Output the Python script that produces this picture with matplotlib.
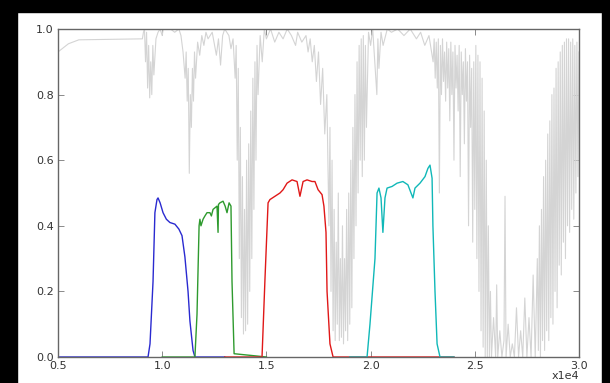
import matplotlib
matplotlib.use("Agg")
from matplotlib import pyplot as plt
from matplotlib.patches import Rectangle

atm_wave_a = [5000, 5200, 5500, 6000, 9050,
              9100, 9150, 9200, 9250, 9300, 9350, 9400, 9450, 9500, 9550, 9600, 9700, 9800, 9900, 10000, 10050, 10400,
              10600, 10800, 10900, 11000, 11100, 11150, 11200, 11250, 11300, 11350, 11400, 11450, 11500, 11550, 11600,
              11700, 11800, 11900, 12000, 12100, 12200, 12400, 12600, 12700, 12800, 12900, 13000, 13200, 13300, 13400,
              13500]
atm_trans_a = [0.93, 0.94, 0.955, 0.967, 0.97,
               0.99, 1.0, 0.9, 0.99, 0.82, 0.95, 0.79, 0.9, 0.8, 0.95, 0.86, 0.97, 0.99, 1.0, 0.98, 1.0, 1.0,
               0.99, 1.0, 0.98, 0.93, 0.85, 0.93, 0.78, 0.88, 0.56, 0.8, 0.7, 0.88, 0.78, 0.93, 0.85,
               0.96, 0.92, 0.98, 0.95, 0.99, 0.97, 0.99, 0.92, 0.97, 0.89, 0.98, 1.0, 0.98, 0.94, 0.97,
               0.85]

atm_wave_b = [13550, 13600, 13650, 13700, 13750, 13800, 13850, 13900, 13950, 14000, 14050, 14100, 14150, 14200, 14250,
              14300, 14350, 14400, 14450, 14500, 14550, 14600, 14700, 14800, 14900,
              15000, 15200, 15400, 15600, 15800, 16000, 16200, 16400, 16500, 16700, 16900, 17000, 17100, 17200, 17300,
              17400, 17500, 17600, 17700, 17800, 17900]
atm_trans_b = [0.95, 0.6, 0.88, 0.3, 0.7, 0.12, 0.55, 0.07, 0.45, 0.08, 0.6, 0.1, 0.65, 0.2, 0.75,
               0.3, 0.85, 0.45, 0.9, 0.6, 0.95, 0.8, 0.98, 0.9, 1.0,
               0.97, 1.0, 0.96, 0.99, 0.97, 1.0, 0.98, 0.95, 0.99, 0.96, 0.98, 0.93, 0.97, 0.9, 0.95,
               0.84, 0.93, 0.77, 0.88, 0.68, 0.8]

atm_wave_c = [18000, 18050, 18100, 18150, 18200, 18250, 18300, 18350, 18400, 18450, 18500, 18550, 18600, 18650, 18700,
              18750, 18800, 18850, 18900, 18950, 19000, 19050, 19100, 19150, 19200, 19250, 19300, 19350, 19400, 19450,
              19500, 19550, 19600, 19650, 19700, 19750, 19800, 19900, 20000, 20100, 20200, 20300, 20350, 20400, 20500,
              20600, 20800, 21000, 21300, 21600, 21900, 22200, 22400, 22600, 22800]
atm_trans_c = [0.4, 0.7, 0.2, 0.6, 0.08, 0.45, 0.05, 0.35, 0.1, 0.5, 0.05, 0.3, 0.06, 0.4, 0.04,
               0.3, 0.08, 0.45, 0.05, 0.5, 0.1, 0.6, 0.15, 0.7, 0.3, 0.8, 0.4, 0.9, 0.5, 0.95,
               0.6, 0.97, 0.55, 0.98, 0.6, 0.95, 0.7, 0.99, 0.95, 1.0, 0.9, 0.8, 0.97, 0.88, 0.99,
               0.95, 1.0, 0.99, 1.0, 0.98, 1.0, 0.97, 0.99, 0.95, 0.98]

atm_wave_d = [23000, 23050, 23100, 23150, 23200, 23250, 23300, 23350, 23400, 23450, 23500, 23550, 23600, 23650, 23700,
              23750, 23800, 23850, 23900, 23950, 24000, 24050, 24100, 24150, 24200, 24250, 24300, 24350, 24400, 24450,
              24500, 24550, 24600, 24650, 24700, 24750, 24800, 24850, 24900, 24950, 25000, 25050, 25100, 25150, 25200,
              25250, 25300, 25350, 25400, 25450, 25500, 25550, 25600, 25650, 25700, 25750, 25800]
atm_trans_d = [0.9, 0.97, 0.85, 0.96, 0.82, 0.97, 0.5, 0.95, 0.8, 0.97, 0.84, 0.93, 0.78, 0.96, 0.82,
               0.94, 0.72, 0.96, 0.8, 0.93, 0.6, 0.95, 0.82, 0.92, 0.75, 0.95, 0.55, 0.93, 0.8, 0.9,
               0.65, 0.94, 0.78, 0.9, 0.4, 0.92, 0.7, 0.88, 0.35, 0.9, 0.45, 0.95, 0.3, 0.92, 0.2,
               0.9, 0.08, 0.85, 0.03, 0.75, 0.0, 0.6, 0.0, 0.4, 0.0, 0.2, 0.0]

atm_wave_e = [25900, 26000, 26050, 26100, 26200, 26300, 26400, 26450, 26500, 26600, 26700, 26800, 26900, 27000, 27100,
              27200, 27300, 27400, 27500, 27600, 27700, 27800, 27900, 28000,
              28050, 28100, 28150, 28200, 28250, 28300, 28350, 28400, 28450, 28500, 28550, 28600, 28650, 28700, 28750,
              28800, 28850, 28900, 28950, 29000, 29050, 29100, 29150, 29200, 29250, 29300, 29350, 29400, 29450, 29500,
              29550, 29600, 29650, 29700, 29750, 29800, 29850, 29900, 29950, 30000]
atm_trans_e = [0.12, 0.0, 0.22, 0.0, 0.08, 0.0, 0.05, 0.49, 0.0, 0.1, 0.0, 0.04, 0.0, 0.15, 0.0,
               0.08, 0.0, 0.18, 0.0, 0.12, 0.0, 0.25, 0.0, 0.3,
               0.02, 0.4, 0.0, 0.45, 0.05, 0.55, 0.02, 0.6, 0.08, 0.68, 0.05, 0.72, 0.12, 0.8, 0.1,
               0.82, 0.2, 0.88, 0.15, 0.9, 0.28, 0.93, 0.25, 0.95, 0.35, 0.96, 0.3, 0.97, 0.4, 0.97,
               0.38, 0.96, 0.45, 0.97, 0.42, 0.95, 0.5, 0.96, 0.55, 0.93]

atm_wave = atm_wave_a + atm_wave_b + atm_wave_c + atm_wave_d + atm_wave_e
atm_trans = atm_trans_a + atm_trans_b + atm_trans_c + atm_trans_d + atm_trans_e

# filter curves
y_wave = [5000, 9320, 9415, 9560, 9650, 9750, 9800, 9900, 10040, 10200, 10370, 10610, 10800, 10950, 11090, 11240, 11330,
          11480, 11570, 13000]
y_trans = [0.0, 0.0, 0.04, 0.23, 0.44, 0.48, 0.485, 0.47, 0.44, 0.42, 0.41, 0.405, 0.39, 0.37, 0.305, 0.2, 0.11,
           0.02, 0.0, 0.0]

j_wave = [10000, 11570, 11670, 11770, 11810, 11860, 11960, 12050, 12150, 12290, 12360, 12440, 12630, 12680, 12700, 12770,
          12920, 13020, 13110, 13210, 13300, 13350, 13450, 15000]
j_trans = [0.0, 0.0, 0.13, 0.4, 0.42, 0.40, 0.42, 0.43, 0.44, 0.44, 0.43, 0.45, 0.46, 0.38, 0.465, 0.47,
           0.475, 0.46, 0.44, 0.47, 0.46, 0.23, 0.01, 0.0]

h_wave = [13000, 14790, 14930, 15080, 15170, 15410, 15650, 15800, 15990, 16230, 16470, 16610, 16760, 16950, 17190,
          17330, 17480, 17670, 17760, 17860, 17910, 18050, 18200, 24000]
h_trans = [0.0, 0.0, 0.235, 0.47, 0.48, 0.49, 0.50, 0.51, 0.53, 0.54, 0.535, 0.49, 0.535, 0.54, 0.535,
           0.535, 0.51, 0.495, 0.46, 0.38, 0.2, 0.04, 0.0, 0.0]

k_wave = [19000, 19830, 19970, 20210, 20310, 20400, 20500, 20590, 20690, 20790, 21030, 21270, 21550, 21790, 22030,
          22130, 22370, 22610, 22750, 22850, 22950, 22990, 23090, 23190, 23330, 24000]
k_trans = [0.0, 0.0, 0.1, 0.3, 0.5, 0.515, 0.485, 0.38, 0.485, 0.515, 0.52, 0.53, 0.535, 0.525, 0.485,
           0.515, 0.53, 0.55, 0.575, 0.585, 0.545, 0.40, 0.2, 0.04, 0.0, 0.0]

x_ticks = [5000, 10000, 15000, 20000, 25000, 30000]
x_labels = ["0.5", "1.0", "1.5", "2.0", "2.5", "3.0"]
y_ticks = [0.0, 0.2, 0.4, 0.6, 0.8, 1.0]
y_labels = ["0.0", "0.2", "0.4", "0.6", "0.8", "1.0"]

fig = plt.figure(figsize=(6.1, 3.83), dpi=100, facecolor="white")
ax = fig.add_axes([58/610, 26/383, 521/610, 328/383])

ax.plot(atm_wave, atm_trans, color="#d4d4d4", linewidth=0.8)
ax.plot(y_wave, y_trans, color="#2a2ad0", linewidth=1.0)
ax.plot(j_wave, j_trans, color="#2e9a2e", linewidth=1.0)
ax.plot(h_wave, h_trans, color="#e01818", linewidth=1.0)
ax.plot(k_wave, k_trans, color="#10b8b8", linewidth=1.0)

ax.set_xlim(5000, 30000)
ax.set_ylim(0, 1)
ax.set_xticks(x_ticks)
ax.set_xticklabels(x_labels)
ax.set_yticks(y_ticks)
ax.set_yticklabels(y_labels)
ax.tick_params(direction="in", length=4, width=0.6, color="#777777", labelsize=8,
               labelcolor="#333333", top=True, right=True, pad=3)
for s in ax.spines.values():
    s.set_color("#666666")
    s.set_linewidth(1.0)

ax.text(1.0, -0.042, "x1e4", transform=ax.transAxes, ha="right", va="top", fontsize=8, color="#333333")

# black frame around the picture
fig.add_artist(Rectangle((0, 0), 17/610, 1, transform=fig.transFigure, color="black", zorder=10))
fig.add_artist(Rectangle((0, 1 - 12/383), 1, 12/383, transform=fig.transFigure, color="black", zorder=10))
fig.add_artist(Rectangle((602/610, 0), 8/610, 1, transform=fig.transFigure, color="black", zorder=10))

plt.savefig("out.png", dpi=100, facecolor="white")
